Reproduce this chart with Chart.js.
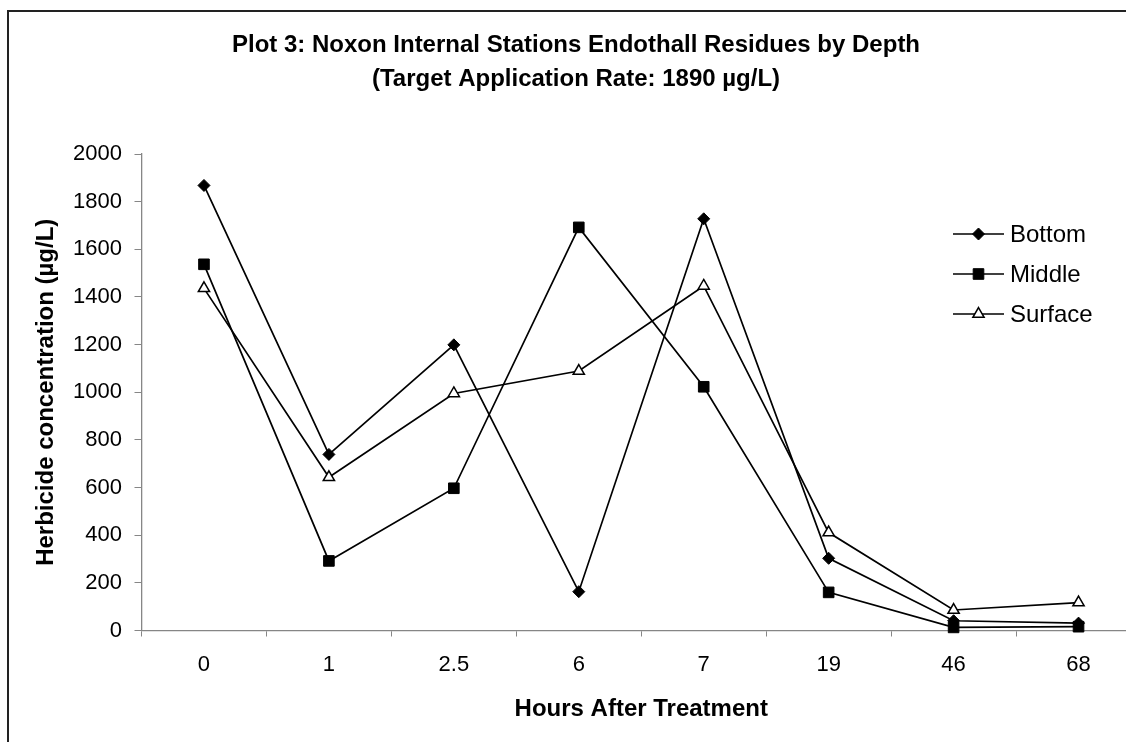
<!DOCTYPE html>
<html>
<head>
<meta charset="utf-8">
<title>Plot 3: Noxon Internal Stations Endothall Residues by Depth</title>
<script src="https://cdn.jsdelivr.net/npm/chart.js@4.4.1/dist/chart.umd.min.js"></script>
<style>
  html, body { margin: 0; padding: 0; background: #fff; }
  canvas { display: block; }
</style>
</head>
<body>
<canvas id="grafico" width="1126" height="742"></canvas>
<script>
const horas = ["0", "1", "2.5", "6", "7", "19", "46", "68"];
const bottom = [1868, 739, 1199, 163, 1728, 303, 41, 31];
const middle = [1537, 292, 597, 1692, 1023, 160, 13, 16];
const surface = [1436, 643, 995, 1089, 1446, 411, 86, 117];
const yMin = 0;
const yMax = 2000;
const yStep = 200;

const fonte = "'Liberation Sans', Arial, Helvetica, sans-serif";
const corEixo = "#868686";
// no original o grafico continua alem da borda direita da imagem
const direitaPlot = 1141;

// fundo branco + moldura (cortada a direita e embaixo como no original)
const moldura = {
  id: "moldura",
  beforeDraw(chart) {
    const ctx = chart.ctx;
    ctx.save();
    ctx.fillStyle = "#fff";
    ctx.fillRect(0, 0, chart.width, chart.height);
    ctx.strokeStyle = "#222";
    ctx.lineWidth = 2;
    ctx.strokeRect(8, 11, chart.width + 20, chart.height + 20);
    ctx.restore();
  },
};

// estica o eixo x para fora do canvas
const estica = {
  id: "estica",
  afterLayout(chart) {
    const x = chart.scales.x;
    x.right = direitaPlot;
    x.width = x.right - x.left;
    x.configure();
    chart.chartArea.right = direitaPlot;
    chart.chartArea.width = direitaPlot - chart.chartArea.left;
  },
};

// legenda estilo excel: linha curta com o marcador no meio
const legenda = {
  id: "legenda",
  afterDraw(chart) {
    const ctx = chart.ctx;
    ctx.save();
    chart.data.datasets.forEach((ds, i) => {
      const y = 234 + i * 40;
      ctx.strokeStyle = "#000";
      ctx.lineWidth = ds.borderWidth;
      ctx.beginPath();
      ctx.moveTo(953, y);
      ctx.lineTo(1004, y);
      ctx.stroke();
      ctx.fillStyle = ds.pointBackgroundColor;
      ctx.strokeStyle = ds.pointBorderColor;
      ctx.lineWidth = ds.pointBorderWidth;
      Chart.helpers.drawPoint(
        ctx,
        { pointStyle: ds.pointStyle, radius: ds.pointRadius, borderWidth: ds.pointBorderWidth, rotation: 0 },
        978.5,
        y
      );
      ctx.fillStyle = "#000";
      ctx.font = "24px " + fonte;
      ctx.textBaseline = "middle";
      ctx.textAlign = "left";
      ctx.fillText(ds.label, 1010, y + 1);
    });
    ctx.restore();
  },
};

function serie(label, data, estilo, raio, fundo, borda) {
  return {
    label: label,
    data: data,
    borderColor: "#000",
    borderWidth: 1.7,
    fill: false,
    tension: 0,
    clip: false,
    pointStyle: estilo,
    pointRadius: raio,
    pointHoverRadius: raio,
    pointBackgroundColor: fundo,
    pointBorderColor: "#000",
    pointBorderWidth: borda,
  };
}

function geraGrafico() {
  const ctx = document.getElementById("grafico");

  const data = {
    labels: horas,
    datasets: [
      serie("Bottom", bottom, "rectRot", 6, "#000", 1),
      serie("Middle", middle, "rect", 7.5, "#000", 1),
      serie("Surface", surface, "triangle", 6.5, "#fff", 1.5),
    ],
  };

  const config = {
    type: "line",
    data: data,
    plugins: [moldura, estica, legenda],
    options: {
      responsive: false,
      animation: false,
      layout: { padding: { left: 26, right: 0, top: 0, bottom: 0 } },
      plugins: {
        legend: { display: false },
        tooltip: { enabled: false },
        title: {
          display: true,
          text: [
            "Plot 3: Noxon Internal Stations Endothall Residues by Depth",
            "(Target Application Rate: 1890 µg/L)",
          ],
          color: "#000",
          font: { family: fonte, size: 24, weight: "bold", lineHeight: "34px" },
          padding: { top: 28, bottom: 58 },
        },
      },
      scales: {
        x: {
          type: "category",
          offset: true,
          grid: { offset: true, drawOnChartArea: false, tickLength: 6, color: corEixo },
          border: { color: corEixo, width: 1.3 },
          ticks: {
            color: "#000",
            font: { family: fonte, size: 22 },
            padding: 15,
            maxRotation: 0,
            autoSkip: false,
          },
          title: {
            display: true,
            text: "Hours After Treatment",
            color: "#000",
            font: { family: fonte, size: 24, weight: "bold" },
            padding: { top: 0, bottom: 18.6 },
          },
          afterFit(scale) {
            scale.height = 111.5;
          },
        },
        y: {
          min: yMin,
          max: yMax,
          ticks: {
            stepSize: yStep,
            color: "#000",
            font: { family: fonte, size: 22 },
            padding: 12.5,
            callback: (v) => String(v),
          },
          grid: { drawOnChartArea: false, tickLength: 7, color: corEixo },
          border: { color: corEixo, width: 1.3 },
          title: {
            display: true,
            text: "Herbicide concentration (µg/L)",
            color: "#000",
            font: { family: fonte, size: 24, weight: "bold" },
            padding: { top: 5.6, bottom: 0 },
          },
          afterFit(scale) {
            scale.width = 115.5;
          },
        },
      },
    },
  };

  new Chart(ctx, config);
}

geraGrafico();
</script>
</body>
</html>
